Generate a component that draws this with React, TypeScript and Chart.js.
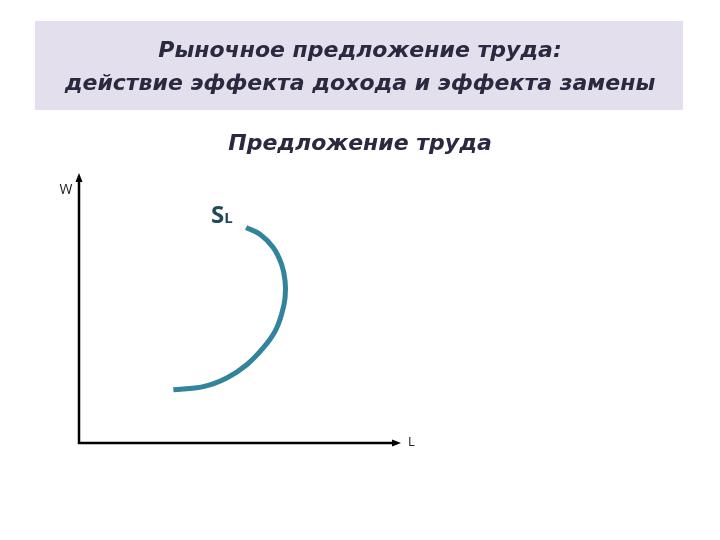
import React, { useEffect, useRef } from "react";
import { Chart, registerables } from "chart.js";

Chart.register(...registerables);

const titleLines = ["Рыночное предложение труда:", "действие эффекта дохода и эффекта замены"];
const subtitleText = "Предложение труда";
const yAxisLabel = "W";
const xAxisLabel = "L";
const curveLabelMain = "S";
const curveLabelSub = "L";
// supply curve (backward-bending)
const curveL = [29.3, 38.6, 45.9, 52.1, 57.2, 60.9, 62.9, 64.0, 64.0, 62.9, 60.3, 56.2, 51.9];
const curveW = [19.7, 20.9, 24.1, 29.0, 35.2, 41.4, 47.6, 53.8, 60.0, 66.2, 72.4, 77.3, 79.8];

const TEAL = "#31849B";
const TEXT = "#2B2940";
const FONT = "'DejaVu Sans'";

export default function App() {
  const ref = useRef<HTMLCanvasElement | null>(null);
  useEffect(() => {
    if (!ref.current) return;
    const decor = {
      id: "decor",
      beforeDraw(chart: any) {
        const ctx = chart.ctx;
        ctx.save();
        ctx.fillStyle = "#ffffff";
        ctx.fillRect(0, 0, chart.width, chart.height);
        ctx.fillStyle = "#E4DFEC";
        ctx.fillRect(35, 21, 648, 89);
        ctx.restore();
      },
      beforeDatasetsDraw(chart: any) {
        const ctx = chart.ctx;
        const a = chart.chartArea;
        ctx.save();
        ctx.strokeStyle = "#000";
        ctx.fillStyle = "#000";
        ctx.lineWidth = 2.5;
        ctx.beginPath();
        ctx.moveTo(a.left, a.top + 6);
        ctx.lineTo(a.left, a.bottom);
        ctx.lineTo(a.right - 6, a.bottom);
        ctx.stroke();
        ctx.beginPath();
        ctx.moveTo(a.left, a.top);
        ctx.lineTo(a.left - 3.5, a.top + 9);
        ctx.lineTo(a.left + 3.5, a.top + 9);
        ctx.closePath();
        ctx.fill();
        ctx.beginPath();
        ctx.moveTo(a.right, a.bottom);
        ctx.lineTo(a.right - 9, a.bottom - 3.5);
        ctx.lineTo(a.right - 9, a.bottom + 3.5);
        ctx.closePath();
        ctx.fill();
        ctx.fillStyle = "#222";
        ctx.font = "14px 'Open Sans'";
        ctx.textAlign = "center";
        ctx.textBaseline = "alphabetic";
        ctx.fillText(yAxisLabel, a.left - 13, a.top + 21);
        ctx.font = "13px 'Open Sans'";
        ctx.textAlign = "left";
        ctx.fillText(xAxisLabel, a.right + 7, a.bottom + 3);
        const xs = chart.scales.x;
        const ys = chart.scales.y;
        const px = xs.getPixelForValue(curveL[curveL.length - 1]);
        const py = ys.getPixelForValue(curveW[curveW.length - 1]);
        ctx.fillStyle = "#1F4B5C";
        ctx.font = "700 24px 'Open Sans'";
        const sx = px - 35;
        const sy = py - 5;
        ctx.fillText(curveLabelMain, sx, sy);
        const w = ctx.measureText(curveLabelMain).width;
        ctx.font = "700 15px 'Open Sans'";
        ctx.fillText(curveLabelSub, sx + w, sy);
        ctx.restore();
      },
    };
    const hidden = {
      display: true,
      grid: { display: false },
      border: { display: false },
      ticks: { display: false },
    };
    const chart = new Chart(ref.current, {
      type: "line",
      data: {
        datasets: [
          {
            data: curveL.map((x, i) => ({ x, y: curveW[i] })),
            borderColor: TEAL,
            borderWidth: 5,
            pointRadius: 0,
            tension: 0.35,
            fill: false,
          },
        ],
      },
      options: {
        animation: false,
        responsive: true,
        maintainAspectRatio: false,
        layout: { padding: 0 },
        scales: {
          x: { type: "linear", min: 0, max: 100, ...hidden, afterFit: (s: any) => { s.height = 97; } },
          y: { type: "linear", min: 0, max: 100, ...hidden, afterFit: (s: any) => { s.width = 79; } },
          r: { type: "linear", position: "right", min: 0, max: 1, ...hidden, afterFit: (s: any) => { s.width = 319; } },
        },
        plugins: {
          legend: { display: false },
          tooltip: { enabled: false },
          title: {
            display: true,
            text: titleLines,
            color: TEXT,
            font: { family: FONT, size: 22, style: "italic", weight: "bold", lineHeight: 1.5 },
            padding: { top: 35, bottom: 30 },
          },
          subtitle: {
            display: true,
            text: subtitleText,
            color: TEXT,
            font: { family: FONT, size: 22, style: "italic", weight: "bold", lineHeight: 1.25 },
            padding: { top: 0, bottom: 14.5 },
          },
        },
      },
      plugins: [decor],
    });
    return () => chart.destroy();
  }, []);
  return (
    <div style={{ position: "fixed", left: 0, top: 0, width: 720, height: 540 }}>
      <canvas ref={ref} />
    </div>
  );
}
